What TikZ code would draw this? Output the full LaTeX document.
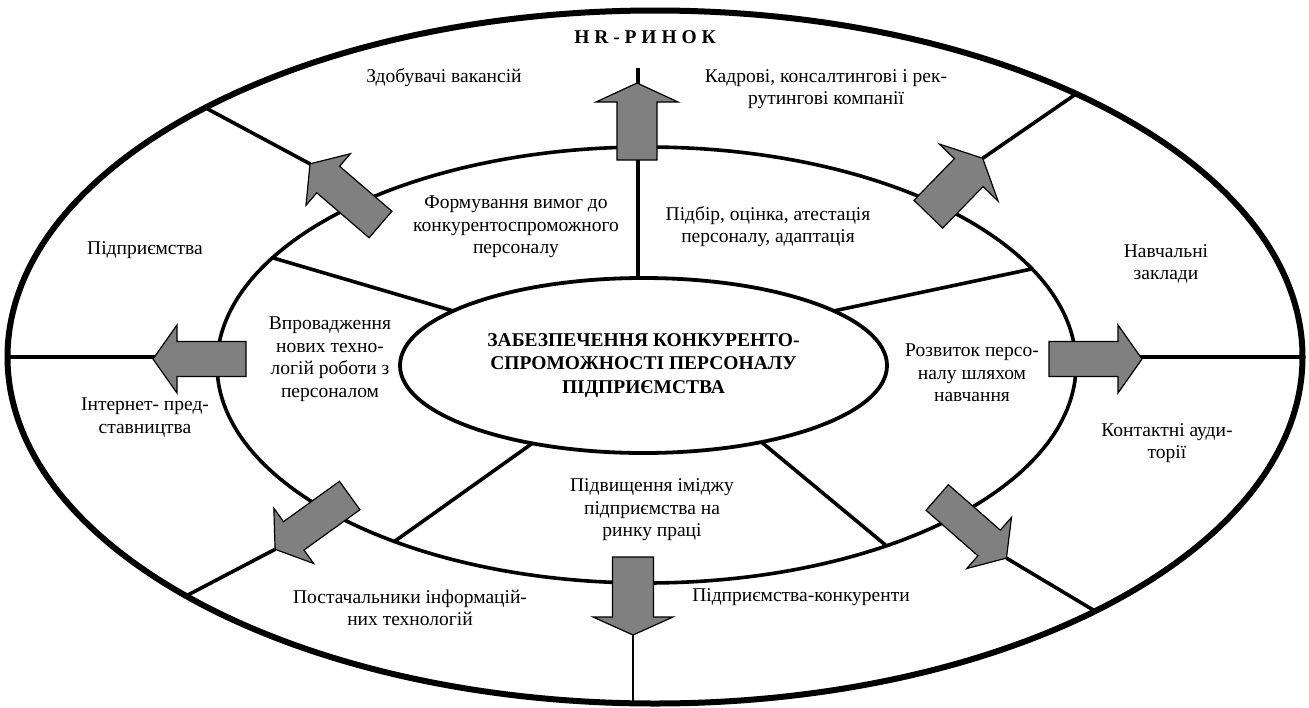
\documentclass[tikz,border=0pt]{standalone}
\usepackage{fontspec}
\setmainfont{Liberation Serif}
\usetikzlibrary{shapes.geometric,backgrounds}
\definecolor{arrowgray}{RGB}{128,128,128}
\tikzset{
  arrowbody/.style={draw=black, line width=1.2pt, fill=arrowgray, line join=miter},
  pics/bigarrow/.style n args={4}{code={
    \draw[arrowbody] (0,{-#3/2}) -- ({#1-#2},{-#3/2}) -- ({#1-#2},{-#4/2}) -- (#1,0)
      -- ({#1-#2},{#4/2}) -- ({#1-#2},{#3/2}) -- (0,{#3/2}) -- cycle;
    \coordinate (-tip) at (#1,0);
    \coordinate (-tail) at (0,0);
  }},
  ring/.style={draw=black, ellipse, inner sep=0pt, outer sep=0pt},
  sep/.style={draw=black, line width=3.6pt},
  thinsep/.style={draw=black, line width=1.6pt},
  lbl/.style={font=\fontsize{19.5}{22.5}\selectfont, align=center, inner sep=0pt},
  blbl/.style={font=\fontsize{19.5}{23.5}\selectfont\bfseries, align=center, inner sep=0pt},
}
\begin{document}
\begin{tikzpicture}[x=1pt, y=-1pt]
\useasboundingbox (0,0) rectangle (1309,707);

% arrows (main layer)
\pic[rotate=90]    (ua) at (637,160)     {bigarrow={77}{19}{40}{82}};
\pic[rotate=-90]   (da) at (633,557)     {bigarrow={78}{18}{41}{80}};
\pic[rotate=45.8]  (ur) at (928.3,214.2) {bigarrow={78}{20}{40}{82}};
\pic[rotate=139.3] (ul) at (380.5,224.5) {bigarrow={93}{24}{35}{68}};
\pic[rotate=180]   (la) at (246,359)     {bigarrow={93}{24}{35}{68}};
\pic[rotate=0]     (ra) at (1049,359)    {bigarrow={93}{24}{35}{68}};
\pic[rotate=215.8] (ll) at (349.7,495.5) {bigarrow={92}{23}{35}{68}};
\pic[rotate=-41.2] (lr) at (937.2,497.5) {bigarrow={92}{23}{34}{68}};

\begin{pgfonlayer}{background}
\fill[white] (0,0) rectangle (1309,707);
\node[ring, line width=6pt, minimum width=1295pt, minimum height=693pt] (outer) at (655,357) {};
\node[ring, line width=3.6pt, minimum width=859pt, minimum height=436pt] (mid) at (646.5,365) {};
\node[ring, line width=3.8pt, minimum width=487pt, minimum height=175pt] (inner) at (643.5,365.5) {};
\coordinate (topend) at (638,68);

\draw[sep] (topend) -- (topend |- inner.north);
\draw[sep] (outer.151.9) -- (ul-tip);
\draw[sep] (mid.164.2) -- (inner.164.8);
\draw[sep] (outer.180.8) -- (outer.180.8 -| la-tail);
\draw[sep] (outer.-0.8) -- (outer.-0.8 -| ra-tail);
\draw[sep] (outer.32.3) -- (ur-tip);
\draw[sep] (inner.16.2) -- (mid.14.6);
\draw[sep] (inner.215.1) -- (mid.215.6);
\draw[sep] (outer.207.2) -- (ll-tip);
\draw[sep] (inner.-33.3) -- (mid.-37.2);
\draw[sep] (outer.-30.3) -- (lr-tip);
\draw[thinsep] (da-tip) -- (da-tip |- outer.south);
\end{pgfonlayer}

% texts
\node[blbl] (t0) at (645,37) {H R - Р И Н О К};
\node[lbl] (t1) at (444,78) {Здобувачі вакансій};
\node[lbl] (t2) at (826,89) {Кадрові, консалтингові і рек-\\рутингові компанії};
\node[lbl] (t3) at (516,227) {Формування вимог до\\конкурентоспроможного\\персоналу};
\node[lbl] (t4) at (768,226.5) {Підбір, оцінка, атестація\\персоналу, адаптація};
\node[lbl] (t5) at (145,250) {Підприємства};
\node[lbl] (t6) at (1166,264) {Навчальні\\заклади};
\node[lbl] (t7) at (330,359) {Впровадження\\нових техно-\\логій роботи з\\персоналом};
\node[blbl] (t8) at (inner) {ЗАБЕЗПЕЧЕННЯ КОНКУРЕНТО-\\СПРОМОЖНОСТІ ПЕРСОНАЛУ\\ПІДПРИЄМСТВА};
\node[lbl] (t9) at (972,373) {Розвиток персо-\\налу шляхом\\навчання};
\node[lbl] (t10) at (145,417.5) {Інтернет- пред-\\ставництва};
\node[lbl] (t11) at (1167,443) {Контактні ауди-\\торії};
\node[lbl] (t12) at (652,510) {Підвищення іміджу\\підприємства на\\ринку праці};
\node[lbl] (t13) at (410,608) {Постачальники інформацій-\\них технологій};
\node[lbl] (t14) at (801,597) {Підприємства-конкуренти};
\end{tikzpicture}
\end{document}
